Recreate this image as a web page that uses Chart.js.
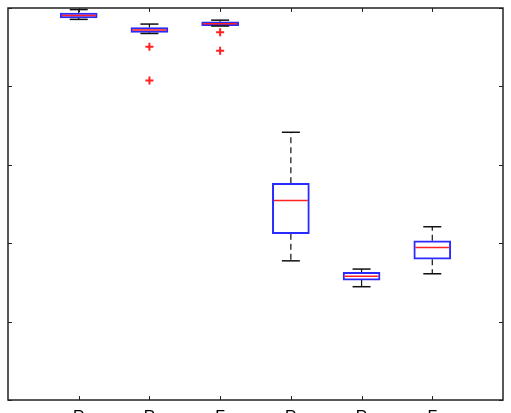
<!DOCTYPE html>
<html>
<head>
<meta charset="utf-8">
<script src="https://cdn.jsdelivr.net/npm/chart.js"></script>
<style>
  html, body { margin: 0; padding: 0; background: #fff; overflow: hidden; }
  #wrap { width: 511px; height: 430px; }
</style>
</head>
<body>
<div id="wrap"><canvas id="box" width="511" height="430"></canvas></div>
<script>
// categories (only the first letter survives in the crop)
const labels = ['R', 'R', 'F', 'R', 'R', 'F'];
// box statistics per category
const whiskerMax = [0.996, 0.959, 0.969, 0.683, 0.334, 0.442];
const q3 = [0.987, 0.950, 0.965, 0.553, 0.326, 0.406];
const median = [0.981, 0.944, 0.960, 0.509, 0.316, 0.389];
const q1 = [0.975, 0.938, 0.955, 0.424, 0.306, 0.359];
const whiskerMin = [0.971, 0.935, 0.954, 0.355, 0.289, 0.322];
// outliers: [category index, value]
const outliers = [[2, 0.901], [2, 0.815], [3, 0.938], [3, 0.891]];
const yTicks = [0, 0.2, 0.4, 0.6, 0.8, 1];

const pos = labels.map((l, i) => i + 1);

const whiskerPts = [];
pos.forEach((x, i) => {
  whiskerPts.push({x: x, y: q3[i]}, {x: x, y: whiskerMax[i]}, {x: x, y: null});
  whiskerPts.push({x: x, y: q1[i]}, {x: x, y: whiskerMin[i]}, {x: x, y: null});
});

// frame + inward ticks on all four sides, like the original
const framePlugin = {
  id: 'frame',
  afterDraw(chart) {
    const {ctx, chartArea: a, scales: {x, y}} = chart;
    ctx.save();
    ctx.strokeStyle = '#222';
    ctx.lineWidth = 1;
    ctx.beginPath();
    pos.forEach(v => {
      const px = Math.round(x.getPixelForValue(v)) + 0.5;
      ctx.moveTo(px, a.bottom); ctx.lineTo(px, a.bottom - 4);
      ctx.moveTo(px, a.top); ctx.lineTo(px, a.top + 4);
    });
    yTicks.forEach(v => {
      const py = Math.round(y.getPixelForValue(v)) + 0.5;
      ctx.moveTo(a.left, py); ctx.lineTo(a.left + 4, py);
      ctx.moveTo(a.right, py); ctx.lineTo(a.right - 4, py);
    });
    ctx.stroke();
    ctx.lineWidth = 1.5;
    ctx.strokeRect(a.left, a.top, a.right - a.left, a.bottom - a.top);
    ctx.restore();
  }
};

new Chart(document.getElementById('box'), {
  type: 'bar',
  data: {
    datasets: [
      {
        type: 'line',
        data: whiskerPts,
        borderColor: '#111',
        borderWidth: 1.2,
        borderDash: [6, 4],
        pointRadius: 0,
        spanGaps: false,
        order: 3
      },
      {
        type: 'bar',
        data: pos.map((x, i) => ({x: x, y: [q1[i], q3[i]]})),
        backgroundColor: '#ffffff',
        borderColor: '#2a2aff',
        borderWidth: 2,
        borderSkipped: false,
        barThickness: 37,
        order: 2
      },
      {
        type: 'scatter',
        data: pos.map((x, i) => ({x: x, y: median[i]})),
        pointStyle: 'line',
        pointRadius: 17,
        borderColor: '#ff2020',
        borderWidth: 1.5,
        order: 1
      },
      {
        type: 'scatter',
        data: pos.flatMap((x, i) => [{x: x, y: whiskerMax[i]}, {x: x, y: whiskerMin[i]}]),
        pointStyle: 'line',
        pointRadius: 9,
        borderColor: '#111',
        borderWidth: 1.5,
        order: 1
      },
      {
        type: 'scatter',
        data: outliers.map(o => ({x: o[0], y: o[1]})),
        pointStyle: 'cross',
        pointRadius: 4,
        borderColor: '#ff2020',
        borderWidth: 2,
        order: 0
      }
    ]
  },
  options: {
    responsive: false,
    animation: false,
    devicePixelRatio: 1,
    layout: { autoPadding: false, padding: { top: 8, right: 8, left: 0, bottom: 0 } },
    plugins: { legend: { display: false }, tooltip: { enabled: false } },
    scales: {
      x: {
        type: 'linear',
        min: 0,
        max: 7,
        offset: false,
        grid: { display: false, drawTicks: false },
        border: { display: false },
        ticks: {
          stepSize: 1,
          autoSkip: false,
          maxRotation: 0,
          padding: 8,
          color: '#000',
          font: { family: 'Liberation Sans', size: 16 },
          callback: v => labels[v - 1] || ''
        },
        afterFit: s => { s.height = 30; }
      },
      y: {
        min: 0,
        max: 1,
        grid: { display: false, drawTicks: false },
        border: { display: false },
        ticks: { display: false },
        afterFit: s => { s.width = 4; }
      }
    }
  },
  plugins: [framePlugin]
});
</script>
</body>
</html>
